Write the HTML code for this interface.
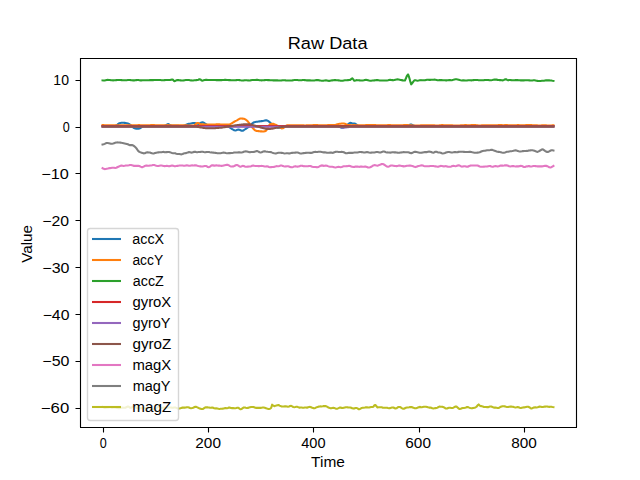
<!DOCTYPE html>
<html><head><meta charset="utf-8"><title>Raw Data</title>
<style>html,body{margin:0;padding:0;background:#fff;width:640px;height:480px;overflow:hidden}svg{display:block}</style>
</head><body>
<svg width="640" height="480" viewBox="0 0 640 480"><rect x="0" y="0" width="640" height="480" fill="#ffffff"/>
<g fill="none" stroke-width="2.0833" stroke-linecap="square" stroke-linejoin="round">
<polyline stroke="#1f77b4" points="102.55,126.00 103.60,126.00 104.65,126.00 105.71,126.00 106.76,126.00 107.81,126.00 108.87,126.00 109.92,126.00 110.97,126.00 112.03,126.00 113.08,126.00 114.13,126.00 115.19,125.94 116.24,125.57 117.29,124.78 118.35,123.88 119.40,123.25 120.45,122.96 121.51,122.78 122.56,122.69 123.62,122.75 124.67,122.88 125.72,123.01 126.78,123.16 127.83,123.41 128.88,123.92 129.94,124.60 130.99,125.39 132.04,126.35 133.10,127.35 134.15,128.11 135.20,128.45 136.26,128.62 137.31,128.69 138.36,128.61 139.42,128.40 140.47,128.01 141.53,127.28 142.58,126.50 143.63,126.08 144.69,126.00 145.74,126.00 146.79,126.00 147.85,126.00 148.90,126.00 149.95,126.00 151.01,126.00 152.06,126.00 153.11,126.00 154.17,126.00 155.22,126.00 156.27,126.00 157.33,126.00 158.38,126.00 159.44,126.00 160.49,126.00 161.54,126.00 162.60,126.00 163.65,125.99 164.70,125.84 165.76,125.34 166.81,124.58 167.86,124.10 168.92,124.35 169.97,125.02 171.02,125.59 172.08,125.80 173.13,125.83 174.18,125.85 175.24,125.87 176.29,125.88 177.35,125.90 178.40,125.91 179.45,125.93 180.51,125.95 181.56,125.96 182.61,125.97 183.67,125.88 184.72,125.52 185.77,124.94 186.83,124.41 187.88,124.08 188.93,123.88 189.99,123.69 191.04,123.49 192.09,123.27 193.15,123.07 194.20,122.97 195.26,123.13 196.31,123.47 197.36,123.81 198.42,123.92 199.47,123.57 200.52,123.01 201.58,122.48 202.63,122.30 203.68,122.71 204.74,123.37 205.79,124.05 206.84,124.70 207.90,125.32 208.95,125.80 210.00,125.98 211.06,126.00 212.11,126.00 213.17,126.00 214.22,126.00 215.27,126.00 216.33,126.00 217.38,126.00 218.43,126.00 219.49,126.00 220.54,126.00 221.59,126.00 222.65,126.00 223.70,126.00 224.75,126.00 225.81,126.00 226.86,126.02 227.91,126.22 228.97,126.83 230.02,127.63 231.08,128.35 232.13,129.01 233.18,129.64 234.24,130.21 235.29,130.44 236.34,130.22 237.40,129.84 238.45,129.59 239.50,129.75 240.56,130.22 241.61,130.68 242.66,130.77 243.72,130.25 244.77,129.51 245.82,128.80 246.88,128.15 247.93,127.48 248.99,126.68 250.04,125.69 251.09,124.63 252.15,123.58 253.20,122.70 254.25,122.21 255.31,122.00 256.36,121.82 257.41,121.66 258.47,121.49 259.52,121.35 260.57,121.23 261.63,121.12 262.68,121.01 263.73,120.84 264.79,120.57 265.84,120.31 266.90,120.38 267.95,120.89 269.00,121.60 270.06,122.50 271.11,123.53 272.16,124.51 273.22,125.32 274.27,126.04 275.32,126.71 276.38,127.21 277.43,127.50 278.48,127.72 279.54,127.76 280.59,127.42 281.64,126.83 282.70,126.30 283.75,126.05 284.80,126.00 285.86,126.00 286.91,126.00 287.97,126.00 289.02,126.00 290.07,126.00 291.13,126.00 292.18,126.00 293.23,126.00 294.29,126.00 295.34,126.00 296.39,126.00 297.45,126.00 298.50,126.00 299.55,126.00 300.61,126.00 301.66,126.00 302.71,126.00 303.77,126.00 304.82,126.00 305.88,126.00 306.93,126.00 307.98,126.00 309.04,126.00 310.09,126.00 311.14,126.00 312.20,126.00 313.25,126.00 314.30,126.00 315.36,126.00 316.41,126.00 317.46,126.00 318.52,126.00 319.57,126.00 320.62,126.00 321.68,126.00 322.73,126.00 323.79,126.00 324.84,126.00 325.89,126.00 326.95,126.00 328.00,126.00 329.05,126.00 330.11,126.00 331.16,126.00 332.21,126.00 333.27,126.00 334.32,126.00 335.37,126.00 336.43,126.00 337.48,126.06 338.53,126.31 339.59,126.78 340.64,127.29 341.70,127.74 342.75,127.83 343.80,127.44 344.86,126.84 345.91,126.16 346.96,125.29 348.02,124.34 349.07,123.43 350.12,122.90 351.18,123.04 352.23,123.42 353.28,123.60 354.34,123.56 355.39,123.84 356.44,124.61 357.50,125.44 358.55,125.90 359.61,126.00 360.66,126.00 361.71,126.00 362.77,126.00 363.82,126.00 364.87,126.00 365.93,126.00 366.98,126.00 368.03,126.00 369.09,126.00 370.14,126.00 371.19,126.00 372.25,126.00 373.30,126.00 374.35,126.00 375.41,126.00 376.46,126.00 377.52,126.00 378.57,126.00 379.62,126.00 380.68,126.00 381.73,126.00 382.78,126.00 383.84,126.00 384.89,126.00 385.94,126.00 387.00,126.00 388.05,126.00 389.10,126.00 390.16,126.00 391.21,126.00 392.26,126.00 393.32,126.00 394.37,126.00 395.43,126.00 396.48,126.00 397.53,126.00 398.59,126.00 399.64,126.00 400.69,126.00 401.75,126.00 402.80,126.00 403.85,126.00 404.91,126.00 405.96,126.00 407.01,125.97 408.07,125.77 409.12,125.24 410.17,124.64 411.23,124.44 412.28,124.88 413.34,125.50 414.39,125.89 415.44,125.99 416.50,126.00 417.55,126.00 418.60,126.00 419.66,126.00 420.71,126.00 421.76,126.00 422.82,126.00 423.87,126.00 424.92,126.00 425.98,126.00 427.03,126.00 428.08,126.00 429.14,126.00 430.19,126.00 431.25,126.00 432.30,126.00 433.35,126.00 434.41,126.00 435.46,126.00 436.51,126.00 437.57,126.00 438.62,126.00 439.67,126.00 440.73,126.00 441.78,126.00 442.83,126.00 443.89,126.00 444.94,126.00 445.99,126.00 447.05,126.00 448.10,126.00 449.16,126.00 450.21,126.00 451.26,126.00 452.32,126.00 453.37,126.00 454.42,126.00 455.48,126.00 456.53,126.00 457.58,126.00 458.64,126.00 459.69,126.00 460.74,126.00 461.80,126.00 462.85,126.00 463.90,126.00 464.96,126.00 466.01,126.00 467.06,126.00 468.12,126.00 469.17,126.00 470.23,126.00 471.28,126.00 472.33,126.00 473.39,126.00 474.44,126.00 475.49,126.00 476.55,126.00 477.60,126.00 478.65,126.00 479.71,126.00 480.76,126.00 481.81,126.00 482.87,126.00 483.92,126.00 484.97,126.00 486.03,126.00 487.08,126.00 488.14,126.00 489.19,126.00 490.24,126.00 491.30,126.00 492.35,126.00 493.40,126.00 494.46,126.00 495.51,126.00 496.56,126.00 497.62,126.00 498.67,126.00 499.72,126.00 500.78,126.00 501.83,126.00 502.88,126.00 503.94,126.00 504.99,126.00 506.05,126.00 507.10,126.00 508.15,126.00 509.21,126.00 510.26,126.00 511.31,126.00 512.37,126.00 513.42,126.00 514.47,126.00 515.53,126.00 516.58,126.00 517.63,126.00 518.69,126.00 519.74,126.00 520.79,126.00 521.85,126.00 522.90,126.00 523.96,126.00 525.01,126.00 526.06,126.00 527.12,126.00 528.17,126.00 529.22,126.00 530.28,126.00 531.33,126.00 532.38,126.00 533.44,126.00 534.49,126.00 535.54,126.00 536.60,126.00 537.65,126.00 538.70,126.00 539.76,126.00 540.81,126.00 541.87,126.00 542.92,126.00 543.97,126.00 545.03,126.00 546.08,126.00 547.13,126.00 548.19,126.00 549.24,126.00 550.29,126.00 551.35,126.00 552.40,126.00 553.45,126.00"/>
<polyline stroke="#ff7f0e" points="102.55,125.07 103.60,125.12 104.65,125.19 105.71,125.25 106.76,125.27 107.81,125.27 108.87,125.27 109.92,125.30 110.97,125.35 112.03,125.39 113.08,125.39 114.13,125.39 115.19,125.40 116.24,125.40 117.29,125.37 118.35,125.30 119.40,125.24 120.45,125.23 121.51,125.24 122.56,125.21 123.62,125.20 124.67,125.23 125.72,125.30 126.78,125.34 127.83,125.34 128.88,125.32 129.94,125.28 130.99,125.26 132.04,125.29 133.10,125.36 134.15,125.40 135.20,125.38 136.26,125.29 137.31,125.17 138.36,125.09 139.42,125.12 140.47,125.21 141.53,125.29 142.58,125.32 143.63,125.32 144.69,125.30 145.74,125.26 146.79,125.24 147.85,125.24 148.90,125.24 149.95,125.19 151.01,125.10 152.06,125.05 153.11,125.07 154.17,125.14 155.22,125.23 156.27,125.30 157.33,125.35 158.38,125.34 159.44,125.29 160.49,125.24 161.54,125.21 162.60,125.22 163.65,125.26 164.70,125.27 165.76,125.24 166.81,125.19 167.86,125.16 168.92,125.17 169.97,125.20 171.02,125.22 172.08,125.21 173.13,125.18 174.18,125.17 175.24,125.19 176.29,125.20 177.35,125.19 178.40,125.19 179.45,125.22 180.51,125.25 181.56,125.27 182.61,125.30 183.67,125.35 184.72,125.37 185.77,125.37 186.83,125.38 187.88,125.42 188.93,125.47 189.99,125.49 191.04,125.49 192.09,125.49 193.15,125.49 194.20,125.29 195.26,124.60 196.31,123.63 197.36,122.97 198.42,123.10 199.47,123.69 200.52,124.20 201.58,124.35 202.63,124.36 203.68,124.38 204.74,124.42 205.79,124.42 206.84,124.44 207.90,124.50 208.95,124.59 210.00,124.64 211.06,124.62 212.11,124.57 213.17,124.55 214.22,124.55 215.27,124.50 216.33,124.38 217.38,124.25 218.43,124.25 219.49,124.35 220.54,124.48 221.59,124.58 222.65,124.64 223.70,124.66 224.75,124.65 225.81,124.61 226.86,124.57 227.91,124.56 228.97,124.53 230.02,124.25 231.08,123.68 232.13,123.01 233.18,122.35 234.24,121.75 235.29,121.20 236.34,120.65 237.40,120.06 238.45,119.43 239.50,118.85 240.56,118.48 241.61,118.46 242.66,118.62 243.72,118.80 244.77,119.08 245.82,119.67 246.88,120.58 247.93,121.60 248.99,122.83 250.04,124.39 251.09,126.02 252.15,127.38 253.20,128.50 254.25,129.59 255.31,130.47 256.36,130.88 257.41,131.02 258.47,131.13 259.52,131.25 260.57,131.34 261.63,131.40 262.68,131.50 263.73,131.54 264.79,131.30 265.84,130.74 266.90,129.48 267.95,127.43 269.00,125.41 270.06,124.29 271.11,123.94 272.16,123.81 273.22,123.87 274.27,124.18 275.32,124.60 276.38,125.06 277.43,125.62 278.48,126.32 279.54,127.10 280.59,127.91 281.64,128.39 282.70,128.25 283.75,127.75 284.80,126.90 285.86,125.86 286.91,125.30 287.97,125.26 289.02,125.34 290.07,125.37 291.13,125.31 292.18,125.22 293.23,125.17 294.29,125.19 295.34,125.22 296.39,125.23 297.45,125.25 298.50,125.27 299.55,125.27 300.61,125.27 301.66,125.31 302.71,125.36 303.77,125.40 304.82,125.42 305.88,125.41 306.93,125.37 307.98,125.29 309.04,125.25 310.09,125.24 311.14,125.22 312.20,125.17 313.25,125.12 314.30,125.09 315.36,125.09 316.41,125.11 317.46,125.15 318.52,125.20 319.57,125.26 320.62,125.30 321.68,125.30 322.73,125.29 323.79,125.28 324.84,125.27 325.89,125.25 326.95,125.21 328.00,125.15 329.05,125.10 330.11,125.07 331.16,125.06 332.21,125.06 333.27,125.08 334.32,125.08 335.37,124.92 336.43,124.57 337.48,124.18 338.53,123.91 339.59,123.78 340.64,123.67 341.70,123.53 342.75,123.48 343.80,123.58 344.86,123.82 345.91,124.26 346.96,124.77 348.02,125.06 349.07,125.13 350.12,125.15 351.18,125.17 352.23,125.18 353.28,125.15 354.34,125.13 355.39,125.17 356.44,125.26 357.50,125.35 358.55,125.36 359.61,125.30 360.66,125.22 361.71,125.20 362.77,125.21 363.82,125.20 364.87,125.17 365.93,125.15 366.98,125.13 368.03,125.09 369.09,125.06 370.14,125.06 371.19,125.09 372.25,125.13 373.30,125.14 374.35,125.14 375.41,125.16 376.46,125.20 377.52,125.22 378.57,125.24 379.62,125.27 380.68,125.30 381.73,125.32 382.78,125.33 383.84,125.34 384.89,125.36 385.94,125.33 387.00,125.24 388.05,125.13 389.10,125.08 390.16,125.14 391.21,125.28 392.26,125.40 393.32,125.41 394.37,125.35 395.43,125.30 396.48,125.32 397.53,125.37 398.59,125.41 399.64,125.41 400.69,125.36 401.75,125.26 402.80,125.18 403.85,125.13 404.91,125.08 405.96,125.05 407.01,125.08 408.07,125.16 409.12,125.21 410.17,125.24 411.23,125.32 412.28,125.44 413.34,125.51 414.39,125.51 415.44,125.49 416.50,125.49 417.55,125.49 418.60,125.47 419.66,125.43 420.71,125.38 421.76,125.32 422.82,125.26 423.87,125.21 424.92,125.22 425.98,125.28 427.03,125.34 428.08,125.35 429.14,125.31 430.19,125.27 431.25,125.25 432.30,125.27 433.35,125.30 434.41,125.38 435.46,125.50 436.51,125.59 437.57,125.57 438.62,125.46 439.67,125.31 440.73,125.18 441.78,125.12 442.83,125.15 443.89,125.21 444.94,125.26 445.99,125.25 447.05,125.23 448.10,125.22 449.16,125.21 450.21,125.21 451.26,125.26 452.32,125.37 453.37,125.49 454.42,125.54 455.48,125.54 456.53,125.53 457.58,125.55 458.64,125.54 459.69,125.48 460.74,125.38 461.80,125.31 462.85,125.24 463.90,125.18 464.96,125.14 466.01,125.15 467.06,125.23 468.12,125.32 469.17,125.31 470.23,125.19 471.28,125.08 472.33,125.05 473.39,125.08 474.44,125.12 475.49,125.16 476.55,125.21 477.60,125.32 478.65,125.47 479.71,125.54 480.76,125.50 481.81,125.40 482.87,125.31 483.92,125.27 484.97,125.30 486.03,125.35 487.08,125.37 488.14,125.37 489.19,125.37 490.24,125.39 491.30,125.37 492.35,125.32 493.40,125.26 494.46,125.25 495.51,125.29 496.56,125.30 497.62,125.26 498.67,125.16 499.72,125.08 500.78,125.07 501.83,125.14 502.88,125.20 503.94,125.18 504.99,125.11 506.05,125.08 507.10,125.12 508.15,125.21 509.21,125.32 510.26,125.40 511.31,125.41 512.37,125.36 513.42,125.28 514.47,125.23 515.53,125.21 516.58,125.17 517.63,125.13 518.69,125.14 519.74,125.20 520.79,125.29 521.85,125.36 522.90,125.36 523.96,125.29 525.01,125.19 526.06,125.10 527.12,125.02 528.17,124.97 529.22,124.98 530.28,125.05 531.33,125.14 532.38,125.21 533.44,125.24 534.49,125.24 535.54,125.27 536.60,125.34 537.65,125.41 538.70,125.45 539.76,125.47 540.81,125.45 541.87,125.39 542.92,125.31 543.97,125.28 545.03,125.32 546.08,125.40 547.13,125.48 548.19,125.53 549.24,125.54 550.29,125.50 551.35,125.43 552.40,125.38 553.45,125.33"/>
<polyline stroke="#2ca02c" points="102.55,80.42 103.60,80.51 104.65,80.42 105.71,80.21 106.76,80.00 107.81,79.91 108.87,79.94 109.92,80.06 110.97,80.21 112.03,80.32 113.08,80.36 114.13,80.32 115.19,80.25 116.24,80.16 117.29,80.07 118.35,80.00 119.40,79.99 120.45,80.04 121.51,80.12 122.56,80.21 123.62,80.27 124.67,80.30 125.72,80.26 126.78,80.17 127.83,80.08 128.88,80.05 129.94,80.07 130.99,80.16 132.04,80.30 133.10,80.40 134.15,80.40 135.20,80.28 136.26,80.10 137.31,80.00 138.36,80.04 139.42,80.21 140.47,80.36 141.53,80.38 142.58,80.32 143.63,80.26 144.69,80.26 145.74,80.27 146.79,80.26 147.85,80.22 148.90,80.18 149.95,80.14 151.01,80.12 152.06,80.12 153.11,80.09 154.17,80.06 155.22,80.07 156.27,80.06 157.33,80.00 158.38,79.93 159.44,79.95 160.49,80.07 161.54,80.20 162.60,80.25 163.65,80.23 164.70,80.15 165.76,80.05 166.81,79.99 167.86,79.98 168.92,80.00 169.97,80.04 171.02,79.76 172.08,79.53 173.13,79.82 174.18,81.15 175.24,80.93 176.29,80.26 177.35,80.15 178.40,80.11 179.45,80.19 180.51,80.36 181.56,80.51 182.61,80.53 183.67,80.39 184.72,80.18 185.77,80.07 186.83,80.06 187.88,80.05 188.93,80.07 189.99,80.21 191.04,80.40 192.09,80.49 193.15,80.42 194.20,80.28 195.26,80.19 196.31,80.14 197.36,80.08 198.42,79.78 199.47,79.20 200.52,79.43 201.58,80.46 202.63,80.65 203.68,80.19 204.74,79.97 205.79,79.90 206.84,79.91 207.90,79.94 208.95,79.95 210.00,79.95 211.06,79.95 212.11,79.97 213.17,80.01 214.22,80.05 215.27,80.08 216.33,80.10 217.38,80.13 218.43,80.16 219.49,80.16 220.54,80.13 221.59,80.10 222.65,80.04 223.70,79.94 224.75,79.85 225.81,79.86 226.86,79.95 227.91,80.04 228.97,80.10 230.02,80.16 231.08,80.20 232.13,80.20 233.18,80.19 234.24,80.20 235.29,80.18 236.34,80.12 237.40,80.05 238.45,80.04 239.50,80.15 240.56,80.32 241.61,80.42 242.66,80.43 243.72,80.37 244.77,80.25 245.82,80.20 246.88,80.27 247.93,80.41 248.99,80.48 250.04,80.39 251.09,80.20 252.15,80.00 253.20,79.92 254.25,79.93 255.31,79.93 256.36,79.90 257.41,79.89 258.47,79.99 259.52,80.18 260.57,80.33 261.63,80.36 262.68,80.32 263.73,80.24 264.79,80.11 265.84,80.02 266.90,80.02 267.95,80.09 269.00,80.14 270.06,80.17 271.11,80.22 272.16,80.30 273.22,80.36 274.27,80.36 275.32,80.36 276.38,80.37 277.43,80.40 278.48,80.44 279.54,80.46 280.59,80.45 281.64,80.37 282.70,80.25 283.75,80.19 284.80,80.25 285.86,80.39 286.91,80.49 287.97,80.49 289.02,80.44 290.07,80.42 291.13,80.42 292.18,80.36 293.23,80.23 294.29,80.08 295.34,80.01 296.39,80.01 297.45,80.07 298.50,80.19 299.55,80.31 300.61,80.32 301.66,80.18 302.71,80.01 303.77,79.98 304.82,80.11 305.88,80.27 306.93,80.35 307.98,80.37 309.04,80.37 310.09,80.40 311.14,80.45 312.20,80.53 313.25,80.57 314.30,80.51 315.36,80.34 316.41,80.15 317.46,80.06 318.52,80.16 319.57,80.39 320.62,80.58 321.68,80.67 322.73,80.68 323.79,80.59 324.84,80.43 325.89,80.40 326.95,80.57 328.00,80.80 329.05,80.88 330.11,80.78 331.16,80.56 332.21,80.36 333.27,80.22 334.32,80.13 335.37,80.12 336.43,80.19 337.48,80.30 338.53,80.41 339.59,80.54 340.64,80.72 341.70,80.80 342.75,80.69 343.80,80.47 344.86,80.32 345.91,80.27 346.96,80.21 348.02,80.11 349.07,80.03 350.12,79.91 351.18,79.07 352.23,78.29 353.28,79.38 354.34,80.78 355.39,80.49 356.44,80.14 357.50,80.18 358.55,80.28 359.61,80.37 360.66,80.45 361.71,80.50 362.77,80.46 363.82,80.24 364.87,79.95 365.93,79.82 366.98,79.96 368.03,80.26 369.09,80.55 370.14,80.71 371.19,80.68 372.25,80.56 373.30,80.46 374.35,80.35 375.41,80.22 376.46,80.11 377.52,80.14 378.57,80.30 379.62,80.45 380.68,80.50 381.73,80.51 382.78,80.52 383.84,80.51 384.89,80.48 385.94,80.47 387.00,80.46 388.05,80.34 389.10,80.08 390.16,79.90 391.21,79.96 392.26,80.12 393.32,80.15 394.37,79.96 395.43,79.66 396.48,79.44 397.53,79.38 398.59,79.48 399.64,79.67 400.69,79.91 401.75,80.14 402.80,80.36 403.85,80.55 404.91,80.58 405.96,78.24 407.01,75.65 408.07,74.44 409.12,77.18 410.17,81.07 411.23,84.37 412.28,83.09 413.34,81.68 414.39,80.25 415.44,80.25 416.50,80.54 417.55,80.66 418.60,80.51 419.66,80.29 420.71,80.16 421.76,80.19 422.82,80.29 423.87,80.33 424.92,80.20 425.98,79.94 427.03,79.76 428.08,79.78 429.14,79.85 430.19,79.84 431.25,79.78 432.30,79.72 433.35,79.67 434.41,79.65 435.46,79.73 436.51,79.95 437.57,80.17 438.62,80.21 439.67,80.12 440.73,80.06 441.78,80.11 442.83,80.19 443.89,80.23 444.94,80.27 445.99,80.34 447.05,80.34 448.10,80.22 449.16,80.09 450.21,80.09 451.26,80.17 452.32,80.10 453.37,79.84 454.42,79.55 455.48,79.33 456.53,79.29 457.58,79.43 458.64,79.70 459.69,80.03 460.74,80.32 461.80,80.44 462.85,80.40 463.90,80.36 464.96,80.44 466.01,80.52 467.06,80.45 468.12,80.28 469.17,80.24 470.23,80.33 471.28,80.39 472.33,80.30 473.39,80.14 474.44,80.01 475.49,79.92 476.55,79.92 477.60,80.04 478.65,80.19 479.71,80.24 480.76,80.20 481.81,80.17 482.87,80.19 483.92,80.15 484.97,80.07 486.03,80.02 487.08,80.02 488.14,80.07 489.19,80.16 490.24,80.21 491.30,80.18 492.35,80.05 493.40,79.85 494.46,79.64 495.51,79.54 496.56,79.63 497.62,79.86 498.67,80.03 499.72,80.09 500.78,80.13 501.83,80.23 502.88,80.34 503.94,79.95 504.99,79.38 506.05,79.25 507.10,79.86 508.15,80.36 509.21,80.02 510.26,79.92 511.31,80.12 512.37,80.24 513.42,80.24 514.47,80.17 515.53,80.11 516.58,80.07 517.63,80.09 518.69,80.17 519.74,80.26 520.79,80.34 521.85,80.38 522.90,80.38 523.96,80.36 525.01,80.33 526.06,80.25 527.12,80.18 528.17,80.20 529.22,80.35 530.28,80.53 531.33,80.58 532.38,80.44 533.44,80.29 534.49,80.32 535.54,80.52 536.60,80.72 537.65,80.90 538.70,81.03 539.76,81.04 540.81,80.93 541.87,80.83 542.92,80.78 543.97,80.71 545.03,80.53 546.08,80.34 547.13,80.28 548.19,80.34 549.24,80.41 550.29,80.47 551.35,80.58 552.40,80.76 553.45,80.90"/>
<polyline stroke="#d62728" points="102.55,126.10 103.60,126.10 104.65,126.10 105.71,126.10 106.76,126.10 107.81,126.10 108.87,126.10 109.92,126.10 110.97,126.10 112.03,126.10 113.08,126.10 114.13,126.10 115.19,126.10 116.24,126.10 117.29,126.10 118.35,126.10 119.40,126.10 120.45,126.10 121.51,126.10 122.56,126.10 123.62,126.10 124.67,126.10 125.72,126.10 126.78,126.10 127.83,126.10 128.88,126.10 129.94,126.10 130.99,126.10 132.04,126.10 133.10,126.10 134.15,126.10 135.20,126.10 136.26,126.10 137.31,126.10 138.36,126.10 139.42,126.10 140.47,126.10 141.53,126.10 142.58,126.10 143.63,126.10 144.69,126.10 145.74,126.10 146.79,126.10 147.85,126.10 148.90,126.10 149.95,126.10 151.01,126.10 152.06,126.10 153.11,126.10 154.17,126.10 155.22,126.10 156.27,126.10 157.33,126.10 158.38,126.10 159.44,126.10 160.49,126.10 161.54,126.10 162.60,126.10 163.65,126.10 164.70,126.10 165.76,126.10 166.81,126.10 167.86,126.10 168.92,126.10 169.97,126.10 171.02,126.10 172.08,126.10 173.13,126.10 174.18,126.10 175.24,126.10 176.29,126.10 177.35,126.10 178.40,126.10 179.45,126.10 180.51,126.10 181.56,126.10 182.61,126.10 183.67,126.10 184.72,126.10 185.77,126.10 186.83,126.10 187.88,126.10 188.93,126.10 189.99,126.10 191.04,126.10 192.09,126.10 193.15,126.10 194.20,126.10 195.26,126.10 196.31,126.10 197.36,126.10 198.42,126.10 199.47,126.10 200.52,126.10 201.58,126.10 202.63,126.10 203.68,126.10 204.74,126.10 205.79,126.10 206.84,126.10 207.90,126.10 208.95,126.10 210.00,126.10 211.06,126.10 212.11,126.10 213.17,126.10 214.22,126.10 215.27,126.10 216.33,126.10 217.38,126.10 218.43,126.10 219.49,126.10 220.54,126.10 221.59,126.10 222.65,126.10 223.70,126.10 224.75,126.10 225.81,126.10 226.86,126.10 227.91,126.10 228.97,126.10 230.02,126.10 231.08,126.10 232.13,126.10 233.18,126.10 234.24,126.10 235.29,126.10 236.34,126.10 237.40,126.10 238.45,126.10 239.50,126.10 240.56,126.10 241.61,126.10 242.66,126.10 243.72,126.10 244.77,126.10 245.82,126.10 246.88,126.10 247.93,126.10 248.99,126.10 250.04,126.10 251.09,126.10 252.15,126.10 253.20,126.10 254.25,126.10 255.31,126.10 256.36,126.10 257.41,126.10 258.47,126.10 259.52,126.10 260.57,126.10 261.63,126.10 262.68,126.10 263.73,126.10 264.79,126.10 265.84,126.10 266.90,126.10 267.95,126.10 269.00,126.10 270.06,126.10 271.11,126.10 272.16,126.10 273.22,126.10 274.27,126.10 275.32,126.10 276.38,126.10 277.43,126.10 278.48,126.10 279.54,126.10 280.59,126.10 281.64,126.10 282.70,126.10 283.75,126.10 284.80,126.10 285.86,126.10 286.91,126.10 287.97,126.10 289.02,126.10 290.07,126.10 291.13,126.10 292.18,126.10 293.23,126.10 294.29,126.10 295.34,126.10 296.39,126.10 297.45,126.10 298.50,126.10 299.55,126.10 300.61,126.10 301.66,126.10 302.71,126.10 303.77,126.10 304.82,126.10 305.88,126.10 306.93,126.10 307.98,126.10 309.04,126.10 310.09,126.10 311.14,126.10 312.20,126.10 313.25,126.10 314.30,126.10 315.36,126.10 316.41,126.10 317.46,126.10 318.52,126.10 319.57,126.10 320.62,126.10 321.68,126.10 322.73,126.10 323.79,126.10 324.84,126.10 325.89,126.10 326.95,126.10 328.00,126.10 329.05,126.10 330.11,126.10 331.16,126.10 332.21,126.10 333.27,126.10 334.32,126.10 335.37,126.10 336.43,126.10 337.48,126.10 338.53,126.10 339.59,126.10 340.64,126.10 341.70,126.10 342.75,126.10 343.80,126.10 344.86,126.10 345.91,126.10 346.96,126.10 348.02,126.10 349.07,126.10 350.12,126.10 351.18,126.10 352.23,126.10 353.28,126.10 354.34,126.10 355.39,126.10 356.44,126.10 357.50,126.10 358.55,126.10 359.61,126.10 360.66,126.10 361.71,126.10 362.77,126.10 363.82,126.10 364.87,126.10 365.93,126.10 366.98,126.10 368.03,126.10 369.09,126.10 370.14,126.10 371.19,126.10 372.25,126.10 373.30,126.10 374.35,126.10 375.41,126.10 376.46,126.10 377.52,126.10 378.57,126.10 379.62,126.10 380.68,126.10 381.73,126.10 382.78,126.10 383.84,126.10 384.89,126.10 385.94,126.10 387.00,126.10 388.05,126.10 389.10,126.10 390.16,126.10 391.21,126.10 392.26,126.10 393.32,126.10 394.37,126.10 395.43,126.10 396.48,126.10 397.53,126.10 398.59,126.10 399.64,126.10 400.69,126.10 401.75,126.10 402.80,126.10 403.85,126.10 404.91,126.10 405.96,126.10 407.01,126.10 408.07,126.10 409.12,126.10 410.17,126.10 411.23,126.10 412.28,126.10 413.34,126.10 414.39,126.10 415.44,126.10 416.50,126.10 417.55,126.10 418.60,126.10 419.66,126.10 420.71,126.10 421.76,126.10 422.82,126.10 423.87,126.10 424.92,126.10 425.98,126.10 427.03,126.10 428.08,126.10 429.14,126.10 430.19,126.10 431.25,126.10 432.30,126.10 433.35,126.10 434.41,126.10 435.46,126.10 436.51,126.10 437.57,126.10 438.62,126.10 439.67,126.10 440.73,126.10 441.78,126.10 442.83,126.10 443.89,126.10 444.94,126.10 445.99,126.10 447.05,126.10 448.10,126.10 449.16,126.10 450.21,126.10 451.26,126.10 452.32,126.10 453.37,126.10 454.42,126.10 455.48,126.10 456.53,126.10 457.58,126.10 458.64,126.10 459.69,126.10 460.74,126.10 461.80,126.10 462.85,126.10 463.90,126.10 464.96,126.10 466.01,126.10 467.06,126.10 468.12,126.10 469.17,126.10 470.23,126.10 471.28,126.10 472.33,126.10 473.39,126.10 474.44,126.10 475.49,126.10 476.55,126.10 477.60,126.10 478.65,126.10 479.71,126.10 480.76,126.10 481.81,126.10 482.87,126.10 483.92,126.10 484.97,126.10 486.03,126.10 487.08,126.10 488.14,126.10 489.19,126.10 490.24,126.10 491.30,126.10 492.35,126.10 493.40,126.10 494.46,126.10 495.51,126.10 496.56,126.10 497.62,126.10 498.67,126.10 499.72,126.10 500.78,126.10 501.83,126.10 502.88,126.10 503.94,126.10 504.99,126.10 506.05,126.10 507.10,126.10 508.15,126.10 509.21,126.10 510.26,126.10 511.31,126.10 512.37,126.10 513.42,126.10 514.47,126.10 515.53,126.10 516.58,126.10 517.63,126.10 518.69,126.10 519.74,126.10 520.79,126.10 521.85,126.10 522.90,126.10 523.96,126.10 525.01,126.10 526.06,126.10 527.12,126.10 528.17,126.10 529.22,126.10 530.28,126.10 531.33,126.10 532.38,126.10 533.44,126.10 534.49,126.10 535.54,126.10 536.60,126.10 537.65,126.10 538.70,126.10 539.76,126.10 540.81,126.10 541.87,126.10 542.92,126.10 543.97,126.10 545.03,126.10 546.08,126.10 547.13,126.10 548.19,126.10 549.24,126.10 550.29,126.10 551.35,126.10 552.40,126.10 553.45,126.10"/>
<polyline stroke="#9467bd" points="102.55,126.80 103.60,126.80 104.65,126.80 105.71,126.80 106.76,126.80 107.81,126.80 108.87,126.80 109.92,126.80 110.97,126.80 112.03,126.80 113.08,126.80 114.13,126.80 115.19,126.80 116.24,126.80 117.29,126.80 118.35,126.80 119.40,126.80 120.45,126.80 121.51,126.80 122.56,126.80 123.62,126.80 124.67,126.80 125.72,126.80 126.78,126.80 127.83,126.80 128.88,126.80 129.94,126.80 130.99,126.80 132.04,126.80 133.10,126.80 134.15,126.80 135.20,126.80 136.26,126.80 137.31,126.80 138.36,126.80 139.42,126.80 140.47,126.80 141.53,126.80 142.58,126.80 143.63,126.80 144.69,126.80 145.74,126.80 146.79,126.80 147.85,126.80 148.90,126.80 149.95,126.80 151.01,126.80 152.06,126.80 153.11,126.80 154.17,126.80 155.22,126.80 156.27,126.80 157.33,126.80 158.38,126.80 159.44,126.80 160.49,126.80 161.54,126.80 162.60,126.80 163.65,126.80 164.70,126.80 165.76,126.80 166.81,126.80 167.86,126.80 168.92,126.80 169.97,126.80 171.02,126.80 172.08,126.80 173.13,126.80 174.18,126.80 175.24,126.80 176.29,126.80 177.35,126.80 178.40,126.80 179.45,126.80 180.51,126.80 181.56,126.80 182.61,126.80 183.67,126.80 184.72,126.80 185.77,126.80 186.83,126.80 187.88,126.80 188.93,126.80 189.99,126.80 191.04,126.80 192.09,126.80 193.15,126.80 194.20,126.80 195.26,126.80 196.31,126.80 197.36,126.80 198.42,126.80 199.47,126.80 200.52,126.80 201.58,126.80 202.63,126.80 203.68,126.80 204.74,126.80 205.79,126.80 206.84,126.80 207.90,126.80 208.95,126.80 210.00,126.80 211.06,126.80 212.11,126.80 213.17,126.80 214.22,126.80 215.27,126.80 216.33,126.80 217.38,126.80 218.43,126.80 219.49,126.80 220.54,126.80 221.59,126.80 222.65,126.80 223.70,126.80 224.75,126.80 225.81,126.80 226.86,126.80 227.91,126.80 228.97,126.80 230.02,126.80 231.08,126.80 232.13,126.80 233.18,126.80 234.24,126.80 235.29,126.80 236.34,126.80 237.40,126.80 238.45,126.80 239.50,126.80 240.56,126.80 241.61,126.80 242.66,126.80 243.72,126.80 244.77,126.80 245.82,126.80 246.88,126.80 247.93,126.80 248.99,126.80 250.04,126.80 251.09,126.80 252.15,126.80 253.20,126.80 254.25,126.80 255.31,126.80 256.36,126.80 257.41,126.80 258.47,126.80 259.52,126.80 260.57,126.80 261.63,126.80 262.68,126.80 263.73,126.80 264.79,126.80 265.84,126.80 266.90,126.80 267.95,126.80 269.00,126.80 270.06,126.80 271.11,126.80 272.16,126.80 273.22,126.80 274.27,126.80 275.32,126.80 276.38,126.80 277.43,126.80 278.48,126.80 279.54,126.80 280.59,126.80 281.64,126.80 282.70,126.80 283.75,126.80 284.80,126.80 285.86,126.80 286.91,126.80 287.97,126.80 289.02,126.80 290.07,126.80 291.13,126.80 292.18,126.80 293.23,126.80 294.29,126.80 295.34,126.80 296.39,126.80 297.45,126.80 298.50,126.80 299.55,126.80 300.61,126.80 301.66,126.80 302.71,126.80 303.77,126.80 304.82,126.80 305.88,126.80 306.93,126.80 307.98,126.80 309.04,126.80 310.09,126.80 311.14,126.80 312.20,126.80 313.25,126.80 314.30,126.80 315.36,126.80 316.41,126.80 317.46,126.80 318.52,126.80 319.57,126.80 320.62,126.80 321.68,126.80 322.73,126.80 323.79,126.80 324.84,126.80 325.89,126.80 326.95,126.80 328.00,126.80 329.05,126.80 330.11,126.80 331.16,126.80 332.21,126.80 333.27,126.80 334.32,126.80 335.37,126.80 336.43,126.80 337.48,126.80 338.53,126.81 339.59,126.91 340.64,127.10 341.70,127.29 342.75,127.47 343.80,127.62 344.86,127.57 345.91,127.41 346.96,127.26 348.02,127.10 349.07,126.94 350.12,126.82 351.18,126.80 352.23,126.80 353.28,126.80 354.34,126.80 355.39,126.80 356.44,126.80 357.50,126.80 358.55,126.80 359.61,126.80 360.66,126.80 361.71,126.80 362.77,126.80 363.82,126.80 364.87,126.80 365.93,126.80 366.98,126.80 368.03,126.80 369.09,126.80 370.14,126.80 371.19,126.80 372.25,126.80 373.30,126.80 374.35,126.80 375.41,126.80 376.46,126.80 377.52,126.80 378.57,126.80 379.62,126.80 380.68,126.80 381.73,126.80 382.78,126.80 383.84,126.80 384.89,126.80 385.94,126.80 387.00,126.80 388.05,126.80 389.10,126.80 390.16,126.80 391.21,126.80 392.26,126.80 393.32,126.80 394.37,126.80 395.43,126.80 396.48,126.80 397.53,126.80 398.59,126.80 399.64,126.80 400.69,126.80 401.75,126.80 402.80,126.80 403.85,126.80 404.91,126.80 405.96,126.80 407.01,126.80 408.07,126.80 409.12,126.80 410.17,126.80 411.23,126.80 412.28,126.80 413.34,126.80 414.39,126.80 415.44,126.80 416.50,126.80 417.55,126.80 418.60,126.80 419.66,126.80 420.71,126.80 421.76,126.80 422.82,126.80 423.87,126.80 424.92,126.80 425.98,126.80 427.03,126.80 428.08,126.80 429.14,126.80 430.19,126.80 431.25,126.80 432.30,126.80 433.35,126.80 434.41,126.80 435.46,126.80 436.51,126.80 437.57,126.80 438.62,126.80 439.67,126.80 440.73,126.80 441.78,126.80 442.83,126.80 443.89,126.80 444.94,126.80 445.99,126.80 447.05,126.80 448.10,126.80 449.16,126.80 450.21,126.80 451.26,126.80 452.32,126.80 453.37,126.80 454.42,126.80 455.48,126.80 456.53,126.80 457.58,126.80 458.64,126.80 459.69,126.80 460.74,126.80 461.80,126.80 462.85,126.80 463.90,126.80 464.96,126.80 466.01,126.80 467.06,126.80 468.12,126.80 469.17,126.80 470.23,126.80 471.28,126.80 472.33,126.80 473.39,126.80 474.44,126.80 475.49,126.80 476.55,126.80 477.60,126.80 478.65,126.80 479.71,126.80 480.76,126.80 481.81,126.80 482.87,126.80 483.92,126.80 484.97,126.80 486.03,126.80 487.08,126.80 488.14,126.80 489.19,126.80 490.24,126.80 491.30,126.80 492.35,126.80 493.40,126.80 494.46,126.80 495.51,126.80 496.56,126.80 497.62,126.80 498.67,126.80 499.72,126.80 500.78,126.80 501.83,126.80 502.88,126.80 503.94,126.80 504.99,126.80 506.05,126.80 507.10,126.80 508.15,126.80 509.21,126.80 510.26,126.80 511.31,126.80 512.37,126.80 513.42,126.80 514.47,126.80 515.53,126.80 516.58,126.80 517.63,126.80 518.69,126.80 519.74,126.80 520.79,126.80 521.85,126.80 522.90,126.80 523.96,126.80 525.01,126.80 526.06,126.80 527.12,126.80 528.17,126.80 529.22,126.80 530.28,126.80 531.33,126.80 532.38,126.80 533.44,126.80 534.49,126.80 535.54,126.80 536.60,126.80 537.65,126.80 538.70,126.80 539.76,126.80 540.81,126.80 541.87,126.80 542.92,126.80 543.97,126.80 545.03,126.80 546.08,126.80 547.13,126.80 548.19,126.80 549.24,126.80 550.29,126.80 551.35,126.80 552.40,126.80 553.45,126.80"/>
<polyline stroke="#8c564b" points="102.55,126.60 103.60,126.60 104.65,126.60 105.71,126.60 106.76,126.60 107.81,126.60 108.87,126.60 109.92,126.60 110.97,126.60 112.03,126.60 113.08,126.60 114.13,126.60 115.19,126.60 116.24,126.60 117.29,126.60 118.35,126.60 119.40,126.60 120.45,126.60 121.51,126.60 122.56,126.60 123.62,126.60 124.67,126.60 125.72,126.60 126.78,126.60 127.83,126.60 128.88,126.60 129.94,126.60 130.99,126.60 132.04,126.60 133.10,126.60 134.15,126.60 135.20,126.60 136.26,126.60 137.31,126.60 138.36,126.60 139.42,126.60 140.47,126.60 141.53,126.60 142.58,126.60 143.63,126.60 144.69,126.60 145.74,126.60 146.79,126.60 147.85,126.60 148.90,126.60 149.95,126.60 151.01,126.60 152.06,126.60 153.11,126.60 154.17,126.60 155.22,126.60 156.27,126.60 157.33,126.60 158.38,126.60 159.44,126.60 160.49,126.60 161.54,126.60 162.60,126.60 163.65,126.60 164.70,126.60 165.76,126.60 166.81,126.60 167.86,126.60 168.92,126.60 169.97,126.60 171.02,126.60 172.08,126.60 173.13,126.60 174.18,126.60 175.24,126.60 176.29,126.60 177.35,126.60 178.40,126.60 179.45,126.60 180.51,126.60 181.56,126.60 182.61,126.60 183.67,126.60 184.72,126.60 185.77,126.60 186.83,126.60 187.88,126.60 188.93,126.60 189.99,126.60 191.04,126.60 192.09,126.60 193.15,126.60 194.20,126.62 195.26,126.66 196.31,126.74 197.36,126.86 198.42,127.02 199.47,127.19 200.52,127.37 201.58,127.55 202.63,127.73 203.68,127.90 204.74,128.05 205.79,128.17 206.84,128.24 207.90,128.26 208.95,128.26 210.00,128.25 211.06,128.24 212.11,128.23 213.17,128.21 214.22,128.18 215.27,128.14 216.33,128.07 217.38,127.99 218.43,127.90 219.49,127.81 220.54,127.71 221.59,127.60 222.65,127.46 223.70,127.31 224.75,127.14 225.81,126.96 226.86,126.78 227.91,126.61 228.97,126.43 230.02,126.25 231.08,126.08 232.13,125.90 233.18,125.72 234.24,125.55 235.29,125.38 236.34,125.22 237.40,125.07 238.45,124.94 239.50,124.81 240.56,124.69 241.61,124.58 242.66,124.47 243.72,124.37 244.77,124.29 245.82,124.25 246.88,124.25 247.93,124.26 248.99,124.31 250.04,124.41 251.09,124.58 252.15,124.84 253.20,125.15 254.25,125.48 255.31,125.81 256.36,126.15 257.41,126.48 258.47,126.80 259.52,127.10 260.57,127.38 261.63,127.64 262.68,127.90 263.73,128.16 264.79,128.41 265.84,128.66 266.90,128.87 267.95,129.00 269.00,129.03 270.06,128.94 271.11,128.78 272.16,128.60 273.22,128.40 274.27,128.21 275.32,128.02 276.38,127.84 277.43,127.67 278.48,127.51 279.54,127.34 280.59,127.18 281.64,127.03 282.70,126.88 283.75,126.75 284.80,126.67 285.86,126.62 286.91,126.61 287.97,126.60 289.02,126.60 290.07,126.60 291.13,126.60 292.18,126.60 293.23,126.60 294.29,126.60 295.34,126.60 296.39,126.60 297.45,126.60 298.50,126.60 299.55,126.60 300.61,126.60 301.66,126.60 302.71,126.60 303.77,126.60 304.82,126.60 305.88,126.60 306.93,126.60 307.98,126.60 309.04,126.60 310.09,126.60 311.14,126.60 312.20,126.60 313.25,126.60 314.30,126.60 315.36,126.60 316.41,126.60 317.46,126.60 318.52,126.60 319.57,126.60 320.62,126.60 321.68,126.60 322.73,126.60 323.79,126.60 324.84,126.60 325.89,126.60 326.95,126.60 328.00,126.60 329.05,126.60 330.11,126.60 331.16,126.60 332.21,126.60 333.27,126.60 334.32,126.60 335.37,126.60 336.43,126.60 337.48,126.60 338.53,126.60 339.59,126.60 340.64,126.60 341.70,126.60 342.75,126.60 343.80,126.60 344.86,126.60 345.91,126.60 346.96,126.60 348.02,126.60 349.07,126.60 350.12,126.60 351.18,126.60 352.23,126.60 353.28,126.60 354.34,126.60 355.39,126.60 356.44,126.60 357.50,126.60 358.55,126.60 359.61,126.60 360.66,126.60 361.71,126.60 362.77,126.60 363.82,126.60 364.87,126.60 365.93,126.60 366.98,126.60 368.03,126.60 369.09,126.60 370.14,126.60 371.19,126.60 372.25,126.60 373.30,126.60 374.35,126.60 375.41,126.60 376.46,126.60 377.52,126.60 378.57,126.60 379.62,126.60 380.68,126.60 381.73,126.60 382.78,126.60 383.84,126.60 384.89,126.60 385.94,126.60 387.00,126.60 388.05,126.60 389.10,126.60 390.16,126.60 391.21,126.60 392.26,126.60 393.32,126.60 394.37,126.60 395.43,126.60 396.48,126.60 397.53,126.60 398.59,126.60 399.64,126.60 400.69,126.60 401.75,126.60 402.80,126.60 403.85,126.60 404.91,126.60 405.96,126.60 407.01,126.60 408.07,126.60 409.12,126.60 410.17,126.60 411.23,126.60 412.28,126.60 413.34,126.60 414.39,126.60 415.44,126.60 416.50,126.60 417.55,126.60 418.60,126.60 419.66,126.60 420.71,126.60 421.76,126.60 422.82,126.60 423.87,126.60 424.92,126.60 425.98,126.60 427.03,126.60 428.08,126.60 429.14,126.60 430.19,126.60 431.25,126.60 432.30,126.60 433.35,126.60 434.41,126.60 435.46,126.60 436.51,126.60 437.57,126.60 438.62,126.60 439.67,126.60 440.73,126.60 441.78,126.60 442.83,126.60 443.89,126.60 444.94,126.60 445.99,126.60 447.05,126.60 448.10,126.60 449.16,126.60 450.21,126.60 451.26,126.60 452.32,126.60 453.37,126.60 454.42,126.60 455.48,126.60 456.53,126.60 457.58,126.60 458.64,126.60 459.69,126.60 460.74,126.60 461.80,126.60 462.85,126.60 463.90,126.60 464.96,126.60 466.01,126.60 467.06,126.60 468.12,126.60 469.17,126.60 470.23,126.60 471.28,126.60 472.33,126.60 473.39,126.60 474.44,126.60 475.49,126.60 476.55,126.60 477.60,126.60 478.65,126.60 479.71,126.60 480.76,126.60 481.81,126.60 482.87,126.60 483.92,126.60 484.97,126.60 486.03,126.60 487.08,126.60 488.14,126.60 489.19,126.60 490.24,126.60 491.30,126.60 492.35,126.60 493.40,126.60 494.46,126.60 495.51,126.60 496.56,126.60 497.62,126.60 498.67,126.60 499.72,126.60 500.78,126.60 501.83,126.60 502.88,126.60 503.94,126.60 504.99,126.60 506.05,126.60 507.10,126.60 508.15,126.60 509.21,126.60 510.26,126.60 511.31,126.60 512.37,126.60 513.42,126.60 514.47,126.60 515.53,126.60 516.58,126.60 517.63,126.60 518.69,126.60 519.74,126.60 520.79,126.60 521.85,126.60 522.90,126.60 523.96,126.60 525.01,126.60 526.06,126.60 527.12,126.60 528.17,126.60 529.22,126.60 530.28,126.60 531.33,126.60 532.38,126.60 533.44,126.60 534.49,126.60 535.54,126.60 536.60,126.60 537.65,126.60 538.70,126.60 539.76,126.60 540.81,126.60 541.87,126.60 542.92,126.60 543.97,126.60 545.03,126.60 546.08,126.60 547.13,126.60 548.19,126.60 549.24,126.60 550.29,126.60 551.35,126.60 552.40,126.60 553.45,126.60"/>
<polyline stroke="#e377c2" points="102.55,168.17 103.60,168.79 104.65,169.09 105.71,169.01 106.76,168.81 107.81,168.60 108.87,168.32 109.92,168.09 110.97,167.98 112.03,167.83 113.08,167.70 114.13,167.75 115.19,167.92 116.24,167.79 117.29,167.26 118.35,166.73 119.40,166.31 120.45,165.84 121.51,165.55 122.56,165.75 123.62,166.00 124.67,165.83 125.72,165.54 126.78,165.52 127.83,165.55 128.88,165.35 129.94,165.07 130.99,164.97 132.04,165.21 133.10,165.63 134.15,165.87 135.20,165.89 136.26,165.88 137.31,165.84 138.36,165.79 139.42,166.02 140.47,166.64 141.53,167.16 142.58,167.11 143.63,166.62 144.69,166.03 145.74,165.63 146.79,165.59 147.85,165.76 148.90,165.77 149.95,165.58 151.01,165.43 152.06,165.25 153.11,164.98 154.17,164.97 155.22,165.38 156.27,165.83 157.33,166.07 158.38,166.08 159.44,165.83 160.49,165.56 161.54,165.52 162.60,165.70 163.65,166.00 164.70,166.12 165.76,165.97 166.81,165.85 167.86,166.02 168.92,166.26 169.97,166.15 171.02,165.72 172.08,165.49 173.13,165.72 174.18,166.09 175.24,166.20 176.29,166.05 177.35,165.89 178.40,165.71 179.45,165.50 180.51,165.46 181.56,165.49 182.61,165.54 183.67,165.73 184.72,165.75 185.77,165.50 186.83,165.37 187.88,165.52 188.93,165.71 189.99,165.67 191.04,165.45 192.09,165.39 193.15,165.47 194.20,165.38 195.26,165.18 196.31,165.35 197.36,165.79 198.42,166.07 199.47,166.21 200.52,166.38 201.58,166.55 202.63,166.50 203.68,166.17 204.74,165.92 205.79,165.94 206.84,166.34 207.90,167.00 208.95,167.21 210.00,166.58 211.06,165.70 212.11,165.26 213.17,165.37 214.22,165.65 215.27,165.59 216.33,165.36 217.38,165.44 218.43,165.63 219.49,165.63 220.54,165.70 221.59,165.89 222.65,165.80 223.70,165.48 224.75,165.23 225.81,165.03 226.86,164.85 227.91,164.91 228.97,165.43 230.02,166.14 231.08,166.56 232.13,166.58 233.18,166.40 234.24,166.04 235.29,165.49 236.34,165.01 237.40,165.03 238.45,165.67 239.50,166.48 240.56,166.73 241.61,166.31 242.66,165.84 243.72,166.00 244.77,166.54 245.82,166.82 246.88,166.78 247.93,166.60 248.99,166.49 250.04,166.46 251.09,166.22 252.15,165.75 253.20,165.55 254.25,165.82 255.31,166.06 256.36,166.05 257.41,166.05 258.47,166.12 259.52,166.09 260.57,165.92 261.63,165.91 262.68,166.09 263.73,166.32 264.79,166.53 265.84,166.51 266.90,166.33 267.95,166.51 269.00,166.99 270.06,167.23 271.11,167.12 272.16,167.00 273.22,167.03 274.27,166.87 275.32,166.45 276.38,166.16 277.43,166.17 278.48,166.20 279.54,165.93 280.59,165.56 281.64,165.56 282.70,165.88 283.75,166.24 284.80,166.48 285.86,166.41 286.91,166.23 287.97,166.25 289.02,166.55 290.07,166.94 291.13,167.14 292.18,167.17 293.23,166.92 294.29,166.41 295.34,166.16 296.39,166.40 297.45,166.66 298.50,166.57 299.55,166.20 300.61,165.83 301.66,165.71 302.71,165.89 303.77,166.16 304.82,166.26 305.88,166.27 306.93,166.28 307.98,166.18 309.04,165.97 310.09,165.93 311.14,166.29 312.20,166.78 313.25,166.96 314.30,166.93 315.36,167.03 316.41,167.16 317.46,167.16 318.52,166.94 319.57,166.35 320.62,165.65 321.68,165.39 322.73,165.61 323.79,165.87 324.84,165.80 325.89,165.57 326.95,165.67 328.00,166.12 329.05,166.54 330.11,166.72 331.16,166.74 332.21,166.75 333.27,166.92 334.32,167.28 335.37,167.50 336.43,167.32 337.48,167.02 338.53,166.88 339.59,167.00 340.64,167.19 341.70,167.07 342.75,166.62 343.80,166.31 344.86,166.28 345.91,166.27 346.96,166.16 348.02,166.00 349.07,165.88 350.12,166.02 351.18,166.42 352.23,166.85 353.28,167.05 354.34,166.90 355.39,166.61 356.44,166.48 357.50,166.59 358.55,166.81 359.61,166.84 360.66,166.61 361.71,166.53 362.77,166.67 363.82,166.71 364.87,166.60 365.93,166.64 366.98,166.99 368.03,167.44 369.09,167.58 370.14,167.30 371.19,166.78 372.25,166.11 373.30,165.47 374.35,165.13 375.41,165.24 376.46,165.58 377.52,165.67 378.57,165.32 379.62,164.86 380.68,164.43 381.73,164.07 382.78,164.03 383.84,164.48 384.89,165.18 385.94,165.90 387.00,166.51 388.05,166.76 389.10,166.47 390.16,165.84 391.21,165.42 392.26,165.45 393.32,165.71 394.37,165.90 395.43,166.03 396.48,166.13 397.53,165.96 398.59,165.63 399.64,165.58 400.69,165.75 401.75,165.92 402.80,166.14 403.85,166.36 404.91,166.31 405.96,165.96 407.01,165.72 408.07,165.67 409.12,165.64 410.17,165.65 411.23,165.78 412.28,166.00 413.34,166.33 414.39,166.82 415.44,167.12 416.50,166.83 417.55,166.28 418.60,165.94 419.66,165.73 420.71,165.49 421.76,165.40 422.82,165.59 423.87,165.94 424.92,166.23 425.98,166.32 427.03,166.32 428.08,166.33 429.14,166.27 430.19,166.09 431.25,165.93 432.30,165.94 433.35,166.05 434.41,166.18 435.46,166.35 436.51,166.54 437.57,166.73 438.62,166.63 439.67,166.21 440.73,165.89 441.78,165.98 442.83,166.29 443.89,166.37 444.94,166.20 445.99,166.15 447.05,166.39 448.10,166.66 449.16,166.80 450.21,166.75 451.26,166.48 452.32,166.08 453.37,165.87 454.42,166.01 455.48,166.18 456.53,165.99 457.58,165.50 458.64,165.29 459.69,165.61 460.74,166.20 461.80,166.61 462.85,166.56 463.90,166.27 464.96,166.21 466.01,166.52 467.06,166.82 468.12,166.62 469.17,166.02 470.23,165.60 471.28,165.49 472.33,165.46 473.39,165.43 474.44,165.49 475.49,165.51 476.55,165.44 477.60,165.56 478.65,166.03 479.71,166.51 480.76,166.67 481.81,166.74 482.87,166.82 483.92,166.65 484.97,166.42 486.03,166.44 487.08,166.58 488.14,166.35 489.19,165.94 490.24,166.04 491.30,166.53 492.35,166.77 493.40,166.60 494.46,166.25 495.51,166.10 496.56,166.33 497.62,166.56 498.67,166.34 499.72,165.83 500.78,165.59 501.83,165.64 502.88,165.66 503.94,165.53 504.99,165.36 506.05,165.29 507.10,165.40 508.15,165.79 509.21,166.28 510.26,166.42 511.31,166.25 512.37,166.07 513.42,166.09 514.47,166.28 515.53,166.43 516.58,166.41 517.63,166.37 518.69,166.35 519.74,166.14 520.79,165.84 521.85,165.93 522.90,166.55 523.96,167.06 525.01,166.96 526.06,166.58 527.12,166.35 528.17,166.16 529.22,166.13 530.28,166.41 531.33,166.58 532.38,166.35 533.44,166.06 534.49,166.03 535.54,166.15 536.60,166.29 537.65,166.40 538.70,166.34 539.76,166.25 540.81,166.34 541.87,166.40 542.92,166.24 543.97,166.00 545.03,165.85 546.08,165.87 547.13,166.13 548.19,166.71 549.24,167.32 550.29,167.54 551.35,167.24 552.40,166.56 553.45,165.88"/>
<polyline stroke="#7f7f7f" points="102.55,144.52 103.60,144.29 104.65,143.87 105.71,143.32 106.76,143.04 107.81,143.08 108.87,143.22 109.92,143.44 110.97,143.69 112.03,143.69 113.08,143.43 114.13,143.13 115.19,142.82 116.24,142.53 117.29,142.41 118.35,142.43 119.40,142.48 120.45,142.60 121.51,142.80 122.56,142.97 123.62,143.18 124.67,143.41 125.72,143.65 126.78,143.92 127.83,144.27 128.88,144.78 129.94,145.16 130.99,145.15 132.04,145.07 133.10,145.42 134.15,146.13 135.20,146.97 136.26,148.11 137.31,149.63 138.36,151.06 139.42,151.86 140.47,152.31 141.53,152.63 142.58,152.96 143.63,153.36 144.69,153.32 145.74,152.80 146.79,152.40 147.85,152.37 148.90,152.43 149.95,152.53 151.01,152.90 152.06,153.29 153.11,153.45 154.17,153.35 155.22,153.01 156.27,152.67 157.33,152.52 158.38,152.37 159.44,152.20 160.49,152.21 161.54,152.17 162.60,151.92 163.65,151.89 164.70,152.15 165.76,152.26 166.81,152.10 167.86,151.96 168.92,152.01 169.97,152.26 171.02,152.63 172.08,152.99 173.13,153.17 174.18,153.18 175.24,153.33 176.29,153.68 177.35,153.94 178.40,153.96 179.45,153.99 180.51,154.25 181.56,154.35 182.61,154.00 183.67,153.54 184.72,153.29 185.77,153.15 186.83,152.86 187.88,152.39 188.93,152.13 189.99,152.31 191.04,152.59 192.09,152.54 193.15,152.16 194.20,151.84 195.26,151.88 196.31,152.10 197.36,152.17 198.42,152.08 199.47,152.01 200.52,151.90 201.58,151.73 202.63,151.71 203.68,151.97 204.74,152.18 205.79,152.16 206.84,152.06 207.90,152.00 208.95,152.06 210.00,152.25 211.06,152.41 212.11,152.48 213.17,152.61 214.22,152.77 215.27,152.86 216.33,153.01 217.38,153.21 218.43,153.31 219.49,153.30 220.54,153.17 221.59,152.98 222.65,152.80 223.70,152.65 224.75,152.74 225.81,153.07 226.86,153.28 227.91,153.23 228.97,153.14 230.02,153.10 231.08,153.07 232.13,153.00 233.18,152.82 234.24,152.58 235.29,152.49 236.34,152.56 237.40,152.55 238.45,152.34 239.50,152.24 240.56,152.42 241.61,152.53 242.66,152.23 243.72,151.73 244.77,151.43 245.82,151.36 246.88,151.44 247.93,151.75 248.99,152.13 250.04,152.18 251.09,151.97 252.15,151.94 253.20,152.03 254.25,151.88 255.31,151.48 256.36,151.11 257.41,151.11 258.47,151.62 259.52,152.25 260.57,152.46 261.63,152.19 262.68,151.73 263.73,151.36 264.79,151.33 265.84,151.53 266.90,151.68 267.95,151.82 269.00,151.93 270.06,151.95 271.11,152.10 272.16,152.60 273.22,153.07 274.27,153.34 275.32,153.47 276.38,153.37 277.43,153.03 278.48,152.74 279.54,152.71 280.59,152.78 281.64,152.89 282.70,153.09 283.75,153.31 284.80,153.42 285.86,153.33 286.91,153.20 287.97,153.27 289.02,153.44 290.07,153.37 291.13,153.04 292.18,152.84 293.23,152.79 294.29,152.69 295.34,152.59 296.39,152.53 297.45,152.57 298.50,152.83 299.55,153.18 300.61,153.45 301.66,153.48 302.71,153.30 303.77,153.13 304.82,153.00 305.88,152.86 306.93,152.80 307.98,152.81 309.04,152.81 310.09,152.86 311.14,152.88 312.20,152.70 313.25,152.32 314.30,151.97 315.36,151.89 316.41,151.98 317.46,151.98 318.52,151.82 319.57,151.72 320.62,151.81 321.68,152.01 322.73,152.22 323.79,152.35 324.84,152.40 325.89,152.59 326.95,152.82 328.00,152.83 329.05,152.70 330.11,152.61 331.16,152.65 332.21,152.84 333.27,152.79 334.32,152.32 335.37,151.90 336.43,151.79 337.48,151.82 338.53,151.93 339.59,152.00 340.64,151.92 341.70,151.84 342.75,151.93 343.80,152.26 344.86,152.79 345.91,153.24 346.96,153.33 348.02,153.10 349.07,152.85 350.12,152.83 351.18,152.91 352.23,152.88 353.28,152.69 354.34,152.48 355.39,152.47 356.44,152.57 357.50,152.51 358.55,152.25 359.61,152.05 360.66,152.04 361.71,152.15 362.77,152.34 363.82,152.52 364.87,152.44 365.93,152.20 366.98,152.13 368.03,152.30 369.09,152.56 370.14,152.68 371.19,152.61 372.25,152.55 373.30,152.54 374.35,152.45 375.41,152.24 376.46,152.02 377.52,152.00 378.57,152.24 379.62,152.47 380.68,152.44 381.73,152.09 382.78,151.56 383.84,151.46 384.89,151.82 385.94,152.18 387.00,152.40 388.05,152.51 389.10,152.58 390.16,152.65 391.21,152.53 392.26,152.28 393.32,152.29 394.37,152.39 395.43,152.38 396.48,152.46 397.53,152.64 398.59,152.73 399.64,152.63 400.69,152.49 401.75,152.41 402.80,152.24 403.85,152.12 404.91,152.19 405.96,152.26 407.01,152.19 408.07,152.20 409.12,152.52 410.17,152.96 411.23,153.15 412.28,152.87 413.34,152.30 414.39,151.89 415.44,151.88 416.50,152.10 417.55,152.30 418.60,152.48 419.66,152.68 420.71,152.74 421.76,152.65 422.82,152.47 423.87,152.25 424.92,152.12 425.98,152.15 427.03,152.09 428.08,151.83 429.14,151.62 430.19,151.70 431.25,152.07 432.30,152.55 433.35,152.71 434.41,152.30 435.46,151.78 436.51,151.78 437.57,152.24 438.62,152.54 439.67,152.57 440.73,152.80 441.78,153.26 442.83,153.51 443.89,153.34 444.94,152.97 445.99,152.52 447.05,152.17 448.10,152.05 449.16,152.07 450.21,152.24 451.26,152.42 452.32,152.46 453.37,152.32 454.42,152.12 455.48,152.09 456.53,152.22 457.58,152.13 458.64,151.87 459.69,151.68 460.74,151.67 461.80,151.74 462.85,151.75 463.90,151.84 464.96,152.03 466.01,152.07 467.06,152.01 468.12,151.93 469.17,151.86 470.23,151.88 471.28,152.08 472.33,152.34 473.39,152.51 474.44,152.66 475.49,152.81 476.55,152.77 477.60,152.63 478.65,152.49 479.71,152.23 480.76,151.73 481.81,151.23 482.87,150.93 483.92,150.81 484.97,150.71 486.03,150.47 487.08,150.23 488.14,150.20 489.19,150.20 490.24,150.02 491.30,149.78 492.35,149.90 493.40,150.34 494.46,150.71 495.51,151.07 496.56,151.45 497.62,151.71 498.67,151.88 499.72,152.08 500.78,152.31 501.83,152.53 502.88,152.69 503.94,152.72 504.99,152.53 506.05,152.12 507.10,151.83 508.15,151.67 509.21,151.45 510.26,151.31 511.31,151.23 512.37,151.08 513.42,150.80 514.47,150.47 515.53,150.36 516.58,150.54 517.63,150.89 518.69,151.27 519.74,151.50 520.79,151.50 521.85,151.34 522.90,151.12 523.96,150.96 525.01,150.98 526.06,151.02 527.12,150.89 528.17,150.64 529.22,150.44 530.28,150.37 531.33,150.33 532.38,150.28 533.44,150.44 534.49,150.78 535.54,151.19 536.60,151.66 537.65,151.85 538.70,151.40 539.76,150.77 540.81,150.14 541.87,149.50 542.92,149.41 543.97,150.05 545.03,150.84 546.08,151.53 547.13,152.01 548.19,151.86 549.24,151.30 550.29,150.72 551.35,150.29 552.40,150.30 553.45,150.49"/>
<polyline stroke="#bcbd22" points="102.55,406.79 103.60,407.25 104.65,407.70 105.71,407.71 106.76,407.51 107.81,407.40 108.87,407.18 109.92,407.05 110.97,407.33 112.03,407.63 113.08,407.54 114.13,407.35 115.19,407.40 116.24,407.66 117.29,407.99 118.35,408.27 119.40,408.24 120.45,407.92 121.51,407.61 122.56,407.55 123.62,407.71 124.67,407.84 125.72,407.63 126.78,406.97 127.83,406.44 128.88,406.79 129.94,407.61 130.99,407.79 132.04,407.14 133.10,406.42 134.15,406.32 135.20,406.91 136.26,407.69 137.31,408.15 138.36,408.20 139.42,408.18 140.47,408.26 141.53,408.20 142.58,407.94 143.63,407.83 144.69,407.92 145.74,407.99 146.79,407.90 147.85,407.69 148.90,407.64 149.95,408.09 151.01,408.83 152.06,409.29 153.11,409.24 154.17,408.97 155.22,408.65 156.27,408.19 157.33,407.42 158.38,406.78 159.44,406.96 160.49,407.63 161.54,407.95 162.60,407.74 163.65,407.54 164.70,407.63 165.76,407.75 166.81,407.68 167.86,407.58 168.92,407.52 169.97,407.47 171.02,407.58 172.08,407.82 173.13,407.75 174.18,407.46 175.24,407.51 176.29,407.87 177.35,408.35 178.40,408.68 179.45,408.58 180.51,408.21 181.56,407.87 182.61,407.62 183.67,407.56 184.72,407.64 185.77,407.51 186.83,407.26 187.88,407.19 188.93,407.46 189.99,407.95 191.04,408.17 192.09,408.03 193.15,407.70 194.20,407.21 195.26,406.82 196.31,406.85 197.36,407.33 198.42,407.95 199.47,408.38 200.52,408.65 201.58,408.95 202.63,409.06 203.68,408.51 204.74,407.68 205.79,407.33 206.84,407.36 207.90,407.41 208.95,407.59 210.00,407.82 211.06,407.73 212.11,407.54 213.17,407.76 214.22,408.21 215.27,408.41 216.33,408.36 217.38,408.43 218.43,408.74 219.49,408.93 220.54,408.80 221.59,408.68 222.65,408.63 223.70,408.40 224.75,408.14 225.81,408.15 226.86,408.27 227.91,407.99 228.97,407.60 230.02,407.64 231.08,407.95 232.13,408.14 233.18,408.16 234.24,408.25 235.29,408.30 236.34,408.06 237.40,407.72 238.45,407.83 239.50,408.60 240.56,409.26 241.61,408.98 242.66,408.10 243.72,407.51 244.77,407.47 245.82,407.79 246.88,408.05 247.93,407.90 248.99,407.54 250.04,407.27 251.09,407.09 252.15,406.95 253.20,406.99 254.25,407.28 255.31,407.66 256.36,407.89 257.41,407.91 258.47,407.88 259.52,407.88 260.57,407.86 261.63,407.69 262.68,407.51 263.73,407.58 264.79,407.81 265.84,408.14 266.90,408.56 267.95,408.87 269.00,408.92 270.06,408.76 271.11,408.02 272.16,404.68 273.22,405.62 274.27,406.16 275.32,405.79 276.38,405.53 277.43,405.17 278.48,404.93 279.54,405.58 280.59,406.12 281.64,406.43 282.70,406.51 283.75,406.51 284.80,406.41 285.86,406.31 286.91,406.45 287.97,406.66 289.02,406.48 290.07,405.97 291.13,405.84 292.18,406.42 293.23,407.02 294.29,407.17 295.34,407.05 296.39,406.80 297.45,406.82 298.50,407.34 299.55,407.63 300.61,407.49 301.66,407.53 302.71,407.74 303.77,407.69 304.82,407.51 305.88,407.54 306.93,407.62 307.98,407.38 309.04,406.98 310.09,406.91 311.14,407.24 312.20,407.72 313.25,408.12 314.30,408.23 315.36,407.91 316.41,407.38 317.46,406.96 318.52,406.64 319.57,406.44 320.62,406.41 321.68,406.42 322.73,406.32 323.79,406.10 324.84,405.96 325.89,406.14 326.95,406.64 328.00,407.21 329.05,407.71 330.11,408.10 331.16,408.23 332.21,408.02 333.27,407.79 334.32,407.95 335.37,408.41 336.43,408.74 337.48,408.67 338.53,408.18 339.59,407.63 340.64,407.60 341.70,407.91 342.75,407.93 343.80,407.69 344.86,407.43 345.91,407.19 346.96,407.17 348.02,407.39 349.07,407.47 350.12,407.44 351.18,407.75 352.23,408.31 353.28,408.59 354.34,408.40 355.39,408.02 356.44,407.92 357.50,408.43 358.55,409.14 359.61,409.20 360.66,408.59 361.71,407.96 362.77,407.72 363.82,407.68 364.87,407.52 365.93,407.31 366.98,407.35 368.03,407.53 369.09,407.45 370.14,407.17 371.19,406.97 372.25,407.05 373.30,406.77 374.35,405.32 375.41,404.98 376.46,406.28 377.52,407.42 378.57,407.31 379.62,407.22 380.68,407.18 381.73,407.33 382.78,407.69 383.84,407.81 384.89,407.70 385.94,407.69 387.00,407.78 388.05,408.03 389.10,408.25 390.16,408.12 391.21,407.78 392.26,407.47 393.32,407.45 394.37,407.99 395.43,408.54 396.48,408.32 397.53,407.51 398.59,406.93 399.64,406.93 400.69,407.34 401.75,408.05 402.80,408.70 403.85,408.74 404.91,408.23 405.96,407.75 407.01,407.54 408.07,407.45 409.12,407.33 410.17,407.12 411.23,407.01 412.28,407.27 413.34,407.77 414.39,408.10 415.44,408.17 416.50,408.11 417.55,407.76 418.60,407.17 419.66,406.89 420.71,407.12 421.76,407.24 422.82,407.02 423.87,406.83 424.92,406.73 425.98,406.72 427.03,406.91 428.08,407.30 429.14,407.62 430.19,407.62 431.25,407.75 432.30,408.21 433.35,408.41 434.41,408.27 435.46,408.16 436.51,408.08 437.57,407.63 438.62,406.88 439.67,406.51 440.73,406.67 441.78,406.83 442.83,406.91 443.89,407.27 444.94,407.98 445.99,408.56 447.05,408.52 448.10,408.08 449.16,407.78 450.21,407.81 451.26,408.00 452.32,408.01 453.37,407.67 454.42,407.08 455.48,406.54 456.53,406.62 457.58,407.51 458.64,408.58 459.69,409.03 460.74,408.76 461.80,408.34 462.85,408.09 463.90,407.94 464.96,407.81 466.01,407.46 467.06,407.04 468.12,407.12 469.17,407.61 470.23,408.03 471.28,408.18 472.33,408.15 473.39,408.01 474.44,407.70 475.49,407.48 476.55,406.75 477.60,405.38 478.65,404.47 479.71,405.57 480.76,406.18 481.81,406.10 482.87,406.59 483.92,407.00 484.97,407.05 486.03,407.04 487.08,407.14 488.14,407.15 489.19,406.82 490.24,406.48 491.30,406.55 492.35,406.96 493.40,407.41 494.46,407.61 495.51,407.62 496.56,407.73 497.62,407.96 498.67,407.96 499.72,407.44 500.78,406.71 501.83,406.39 502.88,406.30 503.94,406.20 504.99,406.39 506.05,406.81 507.10,407.04 508.15,406.94 509.21,406.72 510.26,406.64 511.31,406.64 512.37,406.68 513.42,406.87 514.47,407.21 515.53,407.43 516.58,407.22 517.63,406.93 518.69,407.25 519.74,407.82 520.79,407.95 521.85,407.71 522.90,407.51 523.96,407.36 525.01,407.19 526.06,406.95 527.12,406.75 528.17,406.79 529.22,407.21 530.28,407.97 531.33,408.46 532.38,408.16 533.44,407.64 534.49,407.41 535.54,407.41 536.60,407.45 537.65,407.30 538.70,406.87 539.76,406.63 540.81,406.82 541.87,407.08 542.92,407.06 543.97,406.85 545.03,406.63 546.08,406.43 547.13,406.45 548.19,406.76 549.24,406.90 550.29,406.75 551.35,406.72 552.40,406.94 553.45,407.06"/>
</g>
<g stroke="#000" stroke-width="1.1111" fill="none" stroke-linecap="butt">
<path d="M80.5 58 V427.5 M576.5 58 V427.5 M80 58.5 H577 M80 427.5 H577"/>
<path d="M75.5 80.5 H80.5 M75.5 127.5 H80.5 M75.5 173.5 H80.5 M75.5 220.5 H80.5 M75.5 267.5 H80.5 M75.5 314.5 H80.5 M75.5 361.5 H80.5 M75.5 408.5 H80.5 M103.5 427.5 V432.5 M208.5 427.5 V432.5 M313.5 427.5 V432.5 M419.5 427.5 V432.5 M524.5 427.5 V432.5 "/>
</g>
<text x="53.35" y="85.07" font-family="Liberation Sans, sans-serif" font-size="13.89" text-anchor="start" textLength="15.6" lengthAdjust="spacingAndGlyphs">10</text>
<text x="62.84" y="131.83" font-family="Liberation Sans, sans-serif" font-size="13.89" text-anchor="start" textLength="7.0" lengthAdjust="spacingAndGlyphs">0</text>
<text x="41.29" y="178.91" font-family="Liberation Sans, sans-serif" font-size="13.89" text-anchor="start" textLength="27.6" lengthAdjust="spacingAndGlyphs">−10</text>
<text x="42.37" y="226.06" font-family="Liberation Sans, sans-serif" font-size="13.89" text-anchor="start" textLength="26.8" lengthAdjust="spacingAndGlyphs">−20</text>
<text x="42.36" y="273.23" font-family="Liberation Sans, sans-serif" font-size="13.89" text-anchor="start" textLength="27.1" lengthAdjust="spacingAndGlyphs">−30</text>
<text x="42.65" y="319.78" font-family="Liberation Sans, sans-serif" font-size="13.89" text-anchor="start" textLength="26.8" lengthAdjust="spacingAndGlyphs">−40</text>
<text x="42.36" y="366.49" font-family="Liberation Sans, sans-serif" font-size="13.89" text-anchor="start" textLength="27.1" lengthAdjust="spacingAndGlyphs">−50</text>
<text x="40.8" y="413.06" font-family="Liberation Sans, sans-serif" font-size="13.89" text-anchor="start" textLength="28.4" lengthAdjust="spacingAndGlyphs">−60</text>
<text x="99.84" y="447.83" font-family="Liberation Sans, sans-serif" font-size="13.89" text-anchor="start" textLength="7.0" lengthAdjust="spacingAndGlyphs">0</text>
<text x="195.34" y="447.83" font-family="Liberation Sans, sans-serif" font-size="13.89" text-anchor="start" textLength="25.6" lengthAdjust="spacingAndGlyphs">200</text>
<text x="301.22" y="447.83" font-family="Liberation Sans, sans-serif" font-size="13.89" text-anchor="start" textLength="24.3" lengthAdjust="spacingAndGlyphs">400</text>
<text x="405.35" y="448.2" font-family="Liberation Sans, sans-serif" font-size="13.89" text-anchor="start" textLength="25.6" lengthAdjust="spacingAndGlyphs">600</text>
<text x="511.32" y="447.94" font-family="Liberation Sans, sans-serif" font-size="13.89" text-anchor="start" textLength="25.6" lengthAdjust="spacingAndGlyphs">800</text>
<text x="311.1" y="467.05" font-family="Liberation Sans, sans-serif" font-size="13.89" text-anchor="start" textLength="33.8" lengthAdjust="spacingAndGlyphs">Time</text>
<text transform="translate(32.17,262.84) rotate(-90)" x="0" y="0" font-family="Liberation Sans, sans-serif" font-size="13.89" text-anchor="start" textLength="37.81" lengthAdjust="spacingAndGlyphs">Value</text>
<text x="287.74" y="48.81" font-family="Liberation Sans, sans-serif" font-size="16.67" text-anchor="start" textLength="79.8" lengthAdjust="spacingAndGlyphs">Raw Data</text>
<rect x="87.5" y="228.5" width="91" height="192" rx="2.78" ry="2.78" fill="#ffffff" fill-opacity="0.8" stroke="#cccccc" stroke-opacity="0.8" stroke-width="1.3889"/>
<line x1="92" y1="239" x2="121" y2="239" stroke="#1f77b4" stroke-width="2.0833" stroke-linecap="butt"/>
<text x="132.34" y="243.53" font-family="Liberation Sans, sans-serif" font-size="13.89" text-anchor="start" textLength="31.8" lengthAdjust="spacingAndGlyphs">accX</text>
<line x1="92" y1="260" x2="121" y2="260" stroke="#ff7f0e" stroke-width="2.0833" stroke-linecap="butt"/>
<text x="132.42" y="264.5" font-family="Liberation Sans, sans-serif" font-size="13.89" text-anchor="start" textLength="30.8" lengthAdjust="spacingAndGlyphs">accY</text>
<line x1="92" y1="281" x2="121" y2="281" stroke="#2ca02c" stroke-width="2.0833" stroke-linecap="butt"/>
<text x="132.81" y="285.52" font-family="Liberation Sans, sans-serif" font-size="13.89" text-anchor="start" textLength="31.0" lengthAdjust="spacingAndGlyphs">accZ</text>
<line x1="92" y1="302" x2="121" y2="302" stroke="#d62728" stroke-width="2.0833" stroke-linecap="butt"/>
<text x="132.48" y="306.7" font-family="Liberation Sans, sans-serif" font-size="13.89" text-anchor="start" textLength="38.8" lengthAdjust="spacingAndGlyphs">gyroX</text>
<line x1="92" y1="323" x2="121" y2="323" stroke="#9467bd" stroke-width="2.0833" stroke-linecap="butt"/>
<text x="132.64" y="327.93" font-family="Liberation Sans, sans-serif" font-size="13.89" text-anchor="start" textLength="37.8" lengthAdjust="spacingAndGlyphs">gyroY</text>
<line x1="92" y1="344" x2="121" y2="344" stroke="#8c564b" stroke-width="2.0833" stroke-linecap="butt"/>
<text x="132.48" y="348.54" font-family="Liberation Sans, sans-serif" font-size="13.89" text-anchor="start" textLength="38.8" lengthAdjust="spacingAndGlyphs">gyroZ</text>
<line x1="92" y1="365" x2="121" y2="365" stroke="#e377c2" stroke-width="2.0833" stroke-linecap="butt"/>
<text x="132.47" y="369.79" font-family="Liberation Sans, sans-serif" font-size="13.89" text-anchor="start" textLength="38.8" lengthAdjust="spacingAndGlyphs">magX</text>
<line x1="92" y1="386" x2="121" y2="386" stroke="#7f7f7f" stroke-width="2.0833" stroke-linecap="butt"/>
<text x="132.68" y="390.99" font-family="Liberation Sans, sans-serif" font-size="13.89" text-anchor="start" textLength="37.8" lengthAdjust="spacingAndGlyphs">magY</text>
<line x1="92" y1="407" x2="121" y2="407" stroke="#bcbd22" stroke-width="2.0833" stroke-linecap="butt"/>
<text x="132.38" y="411.61" font-family="Liberation Sans, sans-serif" font-size="13.89" text-anchor="start" textLength="38.8" lengthAdjust="spacingAndGlyphs">magZ</text></svg>
</body></html>
